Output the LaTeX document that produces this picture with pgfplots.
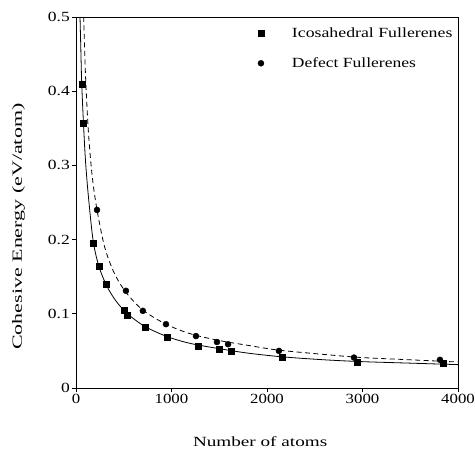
\documentclass[border=0pt]{standalone}
\usepackage{fontspec}
\setmainfont{Liberation Serif}
\usepackage{graphicx}
\usepackage{pgfplots}
\pgfplotsset{compat=1.18}
\newcommand\sx[2]{\scalebox{#1}[1]{#2}}
\begin{document}
\fontsize{14bp}{16bp}\selectfont
\begin{tikzpicture}
\begin{axis}[
  scale only axis,
  width=382bp, height=371bp,
  xmin=0, xmax=4000, ymin=0, ymax=0.5,
  xtick={0,1000,2000,3000,4000},
  ytick={0,0.1,0.2,0.3,0.4,0.5},
  yticklabels={\sx{1.25}{0},\sx{1.25}{0.1},\sx{1.25}{0.2},\sx{1.25}{0.3},\sx{1.25}{0.4},\sx{1.25}{0.5}},
  xticklabels={\sx{1.2}{0},\sx{1.2}{1000},\sx{1.2}{2000},\sx{1.2}{3000},\sx{1.2}{4000}},
  xtick pos=left, ytick pos=left,
  tick align=outside,
  major tick length=4bp,
  scaled ticks=false,
  tick label style={font=\fontsize{14bp}{16bp}\selectfont},
  yticklabel style={inner xsep=2bp, inner ysep=0bp},
  xticklabel style={inner ysep=2bp, inner xsep=0bp},
  label style={font=\fontsize{14bp}{16bp}\selectfont, inner sep=0bp},
  xlabel={\sx{1.37}{Number of atoms}},
  ylabel={\sx{1.57}{Cohesive Energy (eV/atom)}},
  xlabel style={at={(axis description cs:0.482,-0.157)}, anchor=base},
  ylabel style={at={(axis description cs:-0.1675,0.435)}, anchor=north},
  axis line style={line width=0.8bp},
  tick style={line width=0.8bp, black},
  legend style={draw=none, fill=none, at={(axis description cs:0.468,0.983)}, anchor=north west,
    font=\fontsize{14bp}{16bp}\selectfont, row sep=14bp},
  legend cell align=left,
  legend image code/.code={\draw[#1] (0.3cm,0cm) -- plot coordinates {(0.3cm,0cm)};},
]
\addplot[only marks, mark=square*, mark size=3bp, black] coordinates {
(60,0.410) (80,0.357) (180,0.195) (240,0.164) (320,0.140) (500,0.105)
(540,0.098) (720,0.082) (960,0.068) (1280,0.056) (1500,0.052) (1620,0.049)
(2160,0.042) (2940,0.035) (3840,0.033)};
\addlegendentry{\hspace{26bp}\sx{1.27}{Icosahedral Fullerenes}}
\addplot[only marks, mark=*, mark size=3bp, black] coordinates {
(220,0.240) (523,0.131) (700,0.104) (942,0.086) (1256,0.070) (1476,0.062)
(1592,0.059) (2125,0.050) (2911,0.041) (3811,0.038)};
\addlegendentry{\hspace{26bp}\sx{1.25}{Defect Fullerenes}}
\addplot[smooth, black, line width=0.8bp, forget plot] coordinates {
(42,0.50) (50,0.46) (60,0.41) (80,0.352) (100,0.305) (130,0.258) (180,0.198)
(240,0.164) (320,0.138) (420,0.117) (540,0.100) (720,0.083) (960,0.069)
(1200,0.060) (1500,0.053) (1800,0.047) (2160,0.042) (2600,0.038) (3000,0.0355)
(3500,0.0335) (4000,0.0315)};
\addplot[smooth, black, line width=0.8bp, dash pattern=on 5bp off 3.5bp, forget plot] coordinates {
(80,0.50) (100,0.42) (130,0.345) (170,0.285) (220,0.240) (300,0.190) (400,0.155)
(523,0.129) (700,0.105) (942,0.086) (1200,0.073) (1500,0.064) (1800,0.0575)
(2125,0.051) (2660,0.0445) (3000,0.041) (3500,0.038) (4000,0.035)};
\end{axis}
\path (current axis.south west) ++(-76bp,-62bp) coordinate (bl);
\path (current axis.north east) ++(17bp,17bp) coordinate (tr);
\useasboundingbox (bl) rectangle (tr);
\end{tikzpicture}
\end{document}
